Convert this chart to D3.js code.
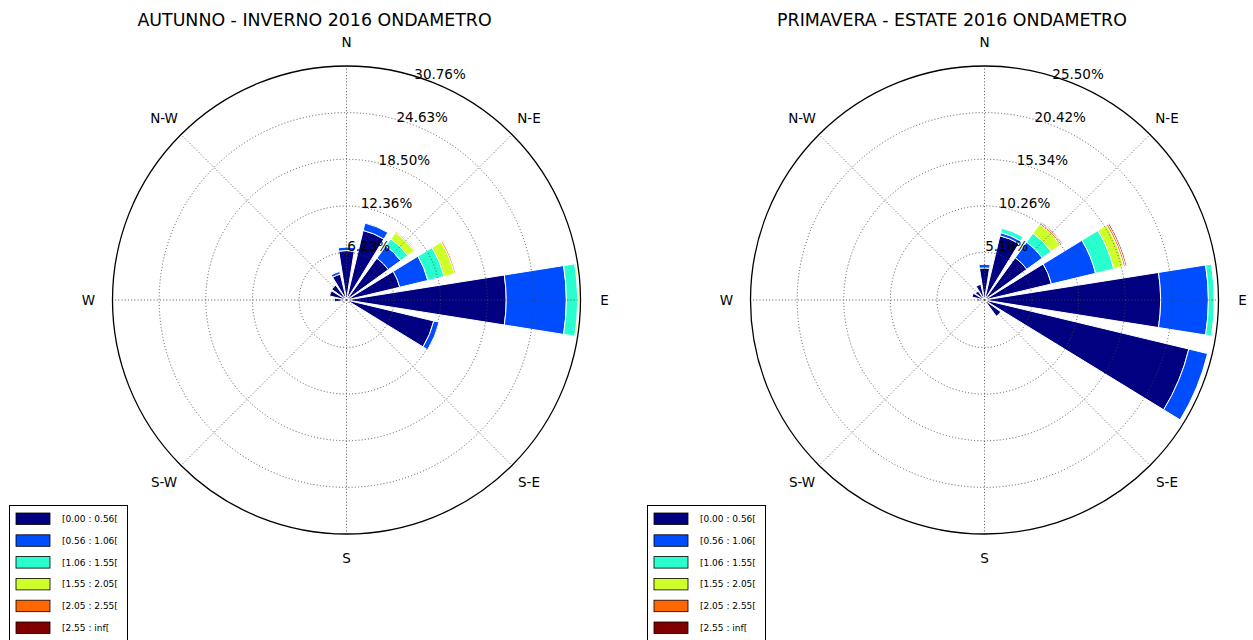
<!DOCTYPE html>
<html><head><meta charset="utf-8">
<script src="https://cdn.jsdelivr.net/npm/d3@7"></script>
<style>body{margin:0;background:#fff} text{font-family:"DejaVu Sans",sans-serif;fill:#000}</style>
</head><body>
<svg id="c" width="1253" height="640"></svg>
<script>
const directions = ["N","NNE","NE","ENE","E","ESE","SE","SSE","S","SSW","SW","WSW","W","WNW","NW","NNW"];
const compassLabels = ["N","N-E","E","S-E","S","S-W","W","N-W"];
const binLabels = ["[0.00 : 0.56[","[0.56 : 1.06[","[1.06 : 1.55[","[1.55 : 2.05[","[2.05 : 2.55[","[2.55 : inf["];
const binColors = ["#000080","#004cff","#29ffce","#ceff29","#ff6800","#800000"];

// AUTUNNO - INVERNO 2016
const aiTitle = "AUTUNNO - INVERNO 2016 ONDAMETRO";
const aiTicks = [6.23, 12.36, 18.50, 24.63, 30.76];
const ai_b0 = [6.5, 9.4, 6.8, 7.2, 21.0, 11.8, 0.5, 0.3, 0.3, 0.2, 0.3, 0.6, 1.6, 2.3, 2.4, 3.5];
const ai_b1 = [0.45, 1.0, 2.0, 3.8, 7.9, 0.7, 0, 0, 0, 0, 0, 0, 0, 0, 0, 0.35];
const ai_b2 = [0, 0, 1.15, 2.2, 1.5, 0, 0, 0, 0, 0, 0, 0, 0, 0, 0, 0];
const ai_b3 = [0, 0, 1.05, 1.4, 0.2, 0, 0, 0, 0, 0, 0, 0, 0, 0, 0, 0];
const ai_b4 = [0, 0, 0.15, 0.2, 0.05, 0, 0, 0, 0, 0, 0, 0, 0, 0, 0, 0];
const ai_b5 = [0, 0, 0.03, 0.05, 0.02, 0, 0, 0, 0, 0, 0, 0, 0, 0, 0, 0];

// PRIMAVERA - ESTATE 2016
const peTitle = "PRIMAVERA - ESTATE 2016 ONDAMETRO";
const peTicks = [5.18, 10.26, 15.34, 20.42, 25.50];
const pe_b0 = [3.5, 7.2, 5.7, 7.5, 19.2, 22.9, 2.2, 0.3, 0.2, 0.2, 0.2, 0.4, 0.8, 1.4, 1.2, 1.75];
const pe_b1 = [0.4, 0.35, 2.1, 4.95, 5.2, 2.1, 0, 0, 0, 0, 0, 0, 0, 0, 0, 0];
const pe_b2 = [0, 0.5, 1.2, 2.05, 0.65, 0, 0, 0, 0, 0, 0, 0, 0, 0, 0, 0];
const pe_b3 = [0, 0, 1.25, 1.1, 0.05, 0, 0, 0, 0, 0, 0, 0, 0, 0, 0, 0];
const pe_b4 = [0, 0, 0.15, 0.2, 0, 0, 0, 0, 0, 0, 0, 0, 0, 0, 0, 0];
const pe_b5 = [0, 0, 0.1, 0.15, 0, 0, 0, 0, 0, 0, 0, 0, 0, 0, 0, 0];

const svg = d3.select("#c");

function drawRose(cx, cy, R, title, ticks, bins, titleX, legendX) {
  const g = svg.append("g").attr("transform", `translate(${cx},${cy})`);
  const r = d3.scaleLinear().domain([0, d3.max(ticks)]).range([0, R]);
  const step = 2 * Math.PI / directions.length;
  const half = step * 0.8 / 2;
  const arc = d3.arc();

  // bars
  directions.forEach((d, i) => {
    let cum = 0;
    bins.forEach((b, k) => {
      const v = b[i];
      if (v > 0) {
        g.append("path")
          .attr("d", arc({innerRadius: r(cum), outerRadius: r(cum + v),
                          startAngle: i * step - half, endAngle: i * step + half}))
          .attr("fill", binColors[k])
          .attr("stroke", "#fff").attr("stroke-width", 1);
      }
      cum += v;
    });
  });

  // grid
  ticks.slice(0, -1).forEach(t => {
    g.append("circle").attr("r", r(t)).attr("fill", "none")
      .attr("stroke", "#444").attr("stroke-width", 0.9).attr("stroke-dasharray", "1,2.2");
  });
  compassLabels.forEach((lab, j) => {
    const a = j * Math.PI / 4;
    g.append("line").attr("x1", 0).attr("y1", 0)
      .attr("x2", R * Math.sin(a)).attr("y2", -R * Math.cos(a))
      .attr("stroke", "#444").attr("stroke-width", 0.9).attr("stroke-dasharray", "1,2.2");
    g.append("text").attr("x", 258 * Math.sin(a)).attr("y", -258 * Math.cos(a))
      .attr("text-anchor", "middle").attr("dominant-baseline", "central")
      .style("font-size", "13.5px").text(lab);
  });
  g.append("circle").attr("r", R).attr("fill", "none").attr("stroke", "#000").attr("stroke-width", 1.3);

  // radial tick labels
  const ta = Math.PI / 8;
  ticks.forEach(t => {
    g.append("text")
      .attr("x", r(t) * Math.sin(ta) + 4).attr("y", -r(t) * Math.cos(ta) - 5)
      .attr("text-anchor", "middle")
      .style("font-size", "13.5px")
      .text(t.toFixed(2) + "%");
  });

  // title
  svg.append("text").attr("x", titleX).attr("y", 26).attr("text-anchor", "middle")
    .style("font-size", "17.4px").text(title);

  // legend
  const lg = svg.append("g").attr("transform", `translate(${legendX},505)`);
  lg.append("rect").attr("x", 0.5).attr("y", 0.5).attr("width", 118).attr("height", 150)
    .attr("fill", "#fff").attr("stroke", "#000").attr("stroke-width", 1);
  binLabels.forEach((lab, k) => {
    const y = 8 + k * 21.8;
    lg.append("rect").attr("x", 7).attr("y", y).attr("width", 34).attr("height", 11.5)
      .attr("fill", binColors[k]).attr("stroke", "#000").attr("stroke-width", 0.8);
    lg.append("text").attr("x", 53).attr("y", y + 6).attr("dominant-baseline", "central")
      .style("font-size", "9px").text(lab);
  });
}

drawRose(346.5, 300, 234, aiTitle, aiTicks, [ai_b0, ai_b1, ai_b2, ai_b3, ai_b4, ai_b5], 314.5, 9);
drawRose(984.5, 300, 234, peTitle, peTicks, [pe_b0, pe_b1, pe_b2, pe_b3, pe_b4, pe_b5], 952, 647);
</script>
</body></html>
